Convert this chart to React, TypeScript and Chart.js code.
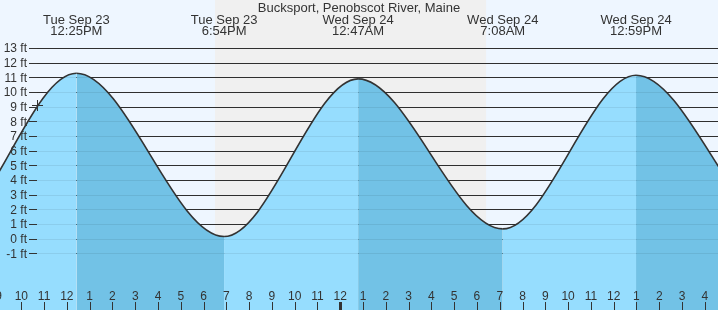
import React, { useEffect, useRef } from "react";
import { Chart, registerables } from "chart.js";

Chart.register(...registerables);

const chartTitle = "Bucksport, Penobscot River, Maine";
// hours counted from Tue Sep 23 00:00 (first and last two lie outside the view)
const extremeHours = [0.1, 6.6, 12.417, 18.9, 24.783, 31.133, 36.983, 43.6, 49.5];
const extremeHeights = [11.0, 0.5, 11.27, 0.14, 10.89, 0.66, 11.14, 0.2, 11.0];
const extremeDays = ["", "", "Tue Sep 23", "Tue Sep 23", "Wed Sep 24", "Wed Sep 24", "Wed Sep 24", "", ""];
const extremeTimes = ["", "", "12:25PM", "6:54PM", "12:47AM", "7:08AM", "12:59PM", "", ""];
const heightTicks = [-1, 0, 1, 2, 3, 4, 5, 6, 7, 8, 9, 10, 11, 12, 13];
const hourTicks = [9, 10, 11, 12, 13, 14, 15, 16, 17, 18, 19, 20, 21, 22, 23, 24, 25, 26, 27, 28, 29, 30, 31, 32, 33, 34, 35, 36, 37, 38, 39, 40];
const hourLabels = ["9", "10", "11", "12", "1", "2", "3", "4", "5", "6", "7", "8", "9", "10", "11", "12", "1", "2", "3", "4", "5", "6", "7", "8", "9", "10", "11", "12", "1", "2", "3", "4"];
const midnightHours = [24];
const sunsetHour = 18.5;
const sunriseHour = 30.4;
const nowHour = 10.7;
const nowHeight = 9.13;
const viewStart = 9.065;
const viewEnd = 40.58;
const heightMin = -4.87;
const heightMax = 16.27;

const DAY_BG = "rgb(238,246,255)";
const NIGHT_BG = "rgb(240,240,240)";
const RISE_FILL = "rgb(150,221,254)";
const FALL_FILL = "rgb(114,194,230)";
const INK = "#333333";
const FONT = 'Arial, "Liberation Sans", sans-serif';

const tidePlugin = {
  id: "tideDecor",
  beforeDraw(chart: any) {
    const { ctx, width, height, scales } = chart;
    const x = scales.x;
    ctx.save();
    ctx.fillStyle = DAY_BG;
    ctx.fillRect(0, 0, width, height);
    const x0 = x.getPixelForValue(sunsetHour);
    const x1 = x.getPixelForValue(sunriseHour);
    ctx.fillStyle = NIGHT_BG;
    ctx.fillRect(x0, 0, x1 - x0, height);
    ctx.restore();
  },
  beforeDatasetsDraw(chart: any) {
    const { ctx, width, scales } = chart;
    const y = scales.y;
    ctx.save();
    ctx.fillStyle = INK;
    for (const v of heightTicks) {
      const py = Math.round(y.getPixelForValue(v));
      ctx.fillRect(29, py, width - 29, 1);
    }
    ctx.restore();
  },
  afterDatasetsDraw(chart: any) {
    const { ctx, width, scales } = chart;
    const x = scales.x;
    const y = scales.y;
    ctx.save();
    // faint grid through the fill
    ctx.fillStyle = "rgba(0,0,0,0.07)";
    for (const v of heightTicks) {
      const py = Math.round(y.getPixelForValue(v));
      ctx.fillRect(29, py, width - 29, 1);
    }
    // short axis ticks next to labels
    ctx.fillStyle = INK;
    for (const v of heightTicks) {
      const py = Math.round(y.getPixelForValue(v));
      ctx.fillRect(29, py, 8, 1);
    }
    // y labels
    ctx.font = "12px " + FONT;
    ctx.textAlign = "right";
    ctx.textBaseline = "alphabetic";
    for (const v of heightTicks) {
      const py = y.getPixelForValue(v);
      ctx.fillText(v + " ft", 27, py + 4.3);
    }
    // current-time marker
    const nx = Math.round(x.getPixelForValue(nowHour));
    const ny = Math.round(y.getPixelForValue(nowHeight));
    ctx.fillRect(nx - 5, ny, 11, 1);
    ctx.fillRect(nx, ny - 5, 1, 11);
    // hour labels and ticks
    ctx.textAlign = "center";
    ctx.font = "12px " + FONT;
    hourTicks.forEach((h, i) => {
      const px = x.getPixelForValue(h);
      ctx.fillText(hourLabels[i], px, 300);
      const wide = midnightHours.includes(h);
      ctx.fillRect(Math.round(px) - (wide ? 1 : 0), 302, wide ? 3 : 1, 8);
    });
    // title and high/low labels
    ctx.font = "13px " + FONT;
    ctx.fillText(chartTitle, chart.width / 2, 12);
    extremeHours.forEach((h, i) => {
      if (!extremeDays[i]) return;
      const px = x.getPixelForValue(h);
      ctx.fillText(extremeDays[i], px, 24);
      ctx.fillText(extremeTimes[i], px, 35);
    });
    ctx.restore();
  },
};

export default function App() {
  const ref = useRef<HTMLCanvasElement | null>(null);
  useEffect(() => {
    if (!ref.current) return;
    const chart = new Chart(ref.current, {
      type: "line",
      data: {
        datasets: [
          {
            data: extremeHours.map((h, i) => ({ x: h, y: extremeHeights[i] })),
            borderColor: INK,
            borderWidth: 1.6,
            pointRadius: 0,
            cubicInterpolationMode: "monotone",
            fill: "start",
            backgroundColor: RISE_FILL,
            segment: {
              backgroundColor: (c: any) => (c.p1.parsed.y < c.p0.parsed.y ? FALL_FILL : RISE_FILL),
            },
          } as any,
        ],
      },
      options: {
        responsive: false,
        animation: false,
        devicePixelRatio: 1,
        layout: { padding: 0 },
        scales: {
          x: { type: "linear", min: viewStart, max: viewEnd, display: false },
          y: { type: "linear", min: heightMin, max: heightMax, display: false },
        },
        plugins: {
          legend: { display: false },
          tooltip: { enabled: false },
          title: { display: false },
        },
      },
      plugins: [tidePlugin],
    });
    return () => chart.destroy();
  }, []);
  return (
    <div style={{ position: "fixed", left: 0, top: 0, width: 718, height: 310 }}>
      <canvas ref={ref} width={718} height={310} style={{ width: 718, height: 310, display: "block" }} />
    </div>
  );
}
